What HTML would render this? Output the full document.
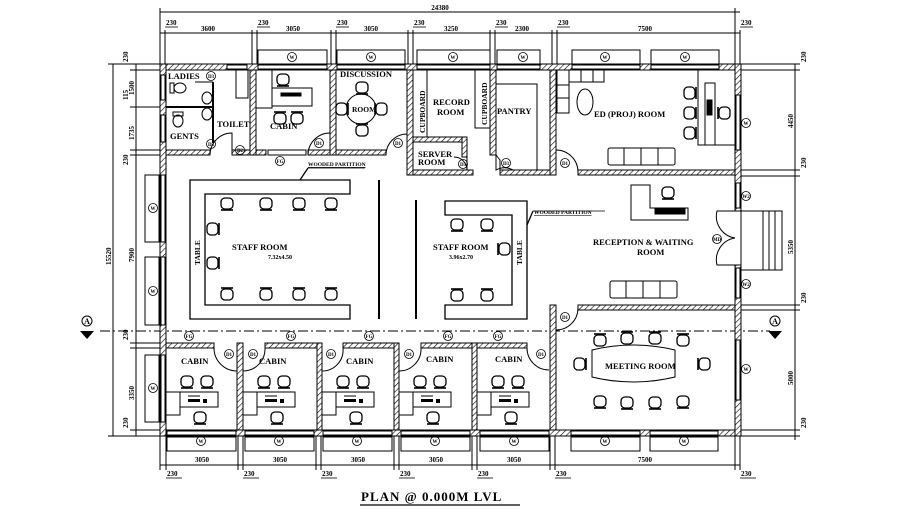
<!DOCTYPE html>
<html><head><meta charset="utf-8"><style>
html,body{margin:0;padding:0;background:#fff;}
svg{display:block;}
text{font-family:"Liberation Serif",serif;font-weight:bold;fill:#000;}
.d{font-family:"Liberation Sans",sans-serif;font-weight:normal;font-size:7px;}
</style></head><body>
<svg width="900" height="510" viewBox="0 0 900 510" xmlns="http://www.w3.org/2000/svg">
<defs>
<pattern id="h" width="4" height="4" patternUnits="userSpaceOnUse" patternTransform="rotate(45)">
<rect width="4" height="4" fill="#fff"/><line x1="0" y1="0" x2="0" y2="4" stroke="#000" stroke-width="1.2"/></pattern>
<g id="ch"><rect x="-6" y="-5" width="12" height="11" rx="4" fill="#fff" stroke="#000" stroke-width="1.3"/><line x1="-6" y1="-6" x2="6" y2="-6" stroke="#000" stroke-width="1.6"/></g>
<g id="cd"><rect x="-6" y="-6" width="12" height="11" rx="4" fill="#fff" stroke="#000" stroke-width="1.3"/><line x1="-6" y1="6" x2="6" y2="6" stroke="#000" stroke-width="1.6"/></g>
<g id="cl"><rect x="-5" y="-6" width="11" height="12" rx="4" fill="#fff" stroke="#000" stroke-width="1.3"/><line x1="-6" y1="-6" x2="-6" y2="6" stroke="#000" stroke-width="1.6"/></g>
<g id="cr"><rect x="-6" y="-6" width="11" height="12" rx="4" fill="#fff" stroke="#000" stroke-width="1.3"/><line x1="6" y1="-6" x2="6" y2="6" stroke="#000" stroke-width="1.6"/></g>
<g id="cab">
<rect x="0" y="0" width="14" height="23" fill="none" stroke="#000"/>
<rect x="14" y="0" width="38" height="15" fill="none" stroke="#000"/>
<rect x="22" y="7" width="12" height="3" fill="#000"/><rect x="37" y="7" width="4" height="4" fill="#000"/>
<line x1="22" y1="4" x2="34" y2="4" stroke="#000"/>
<use href="#cd" x="21" y="-10"/><use href="#cd" x="41" y="-10"/>
<use href="#cd" x="34" y="26"/>
</g>
</defs>

<g stroke="#000" stroke-width="1" fill="none">
<line x1="160" y1="12" x2="740" y2="12"/>
<line x1="160" y1="33" x2="740" y2="33"/>
<g stroke-width="1">
<line x1="160" y1="8" x2="160" y2="64"/><line x1="165" y1="30" x2="165" y2="64"/>
<line x1="252" y1="30" x2="252" y2="64"/><line x1="257" y1="30" x2="257" y2="64"/>
<line x1="331" y1="30" x2="331" y2="64"/><line x1="336" y1="30" x2="336" y2="64"/>
<line x1="408" y1="30" x2="408" y2="64"/><line x1="413" y1="30" x2="413" y2="64"/>
<line x1="490" y1="30" x2="490" y2="64"/><line x1="495" y1="30" x2="495" y2="64"/>
<line x1="552" y1="30" x2="552" y2="64"/><line x1="557" y1="30" x2="557" y2="64"/>
<line x1="735" y1="8" x2="735" y2="64"/><line x1="740" y1="30" x2="740" y2="64"/>
</g>
<g stroke-width="0.8">
<line x1="165" y1="27" x2="178" y2="27"/><line x1="257" y1="27" x2="270" y2="27"/><line x1="336" y1="27" x2="349" y2="27"/><line x1="413" y1="27" x2="426" y2="27"/><line x1="495" y1="27" x2="508" y2="27"/><line x1="557" y1="27" x2="570" y2="27"/><line x1="740" y1="27" x2="753" y2="27"/>
</g>
<rect x="258" y="50" width="69" height="14"/><rect x="337" y="50" width="68" height="14"/>
<rect x="417" y="50" width="73" height="14"/><rect x="497" y="50" width="43" height="14"/>
<rect x="572" y="50" width="68" height="14"/><rect x="651" y="50" width="68" height="14"/>
<rect x="167" y="437" width="69" height="14"/><rect x="245" y="437" width="69" height="14"/><rect x="323" y="437" width="69" height="14"/><rect x="401" y="437" width="69" height="14"/><rect x="480" y="437" width="69" height="14"/>
<rect x="571" y="437" width="69" height="14"/><rect x="650" y="437" width="68" height="14"/>
<rect x="145" y="175" width="14" height="67"/><rect x="145" y="257" width="14" height="68"/><rect x="145" y="355" width="14" height="67"/>
<line x1="160" y1="465" x2="740" y2="465"/>
<line x1="160" y1="436" x2="160" y2="470"/><line x1="166" y1="436" x2="166" y2="470"/>
<line x1="238" y1="436" x2="238" y2="470"/><line x1="243" y1="436" x2="243" y2="470"/>
<line x1="316" y1="436" x2="316" y2="470"/><line x1="321" y1="436" x2="321" y2="470"/>
<line x1="394" y1="436" x2="394" y2="470"/><line x1="399" y1="436" x2="399" y2="470"/>
<line x1="472" y1="436" x2="472" y2="470"/><line x1="477" y1="436" x2="477" y2="470"/>
<line x1="550" y1="436" x2="550" y2="470"/><line x1="555" y1="436" x2="555" y2="470"/>
<line x1="735" y1="436" x2="735" y2="470"/><line x1="740" y1="436" x2="740" y2="470"/>
<g stroke-width="0.8">
<line x1="166" y1="478" x2="182" y2="478"/><line x1="243" y1="478" x2="259" y2="478"/><line x1="321" y1="478" x2="337" y2="478"/><line x1="399" y1="478" x2="415" y2="478"/><line x1="477" y1="478" x2="493" y2="478"/><line x1="555" y1="478" x2="571" y2="478"/><line x1="740" y1="478" x2="756" y2="478"/>
</g>
<line x1="113" y1="64" x2="113" y2="436"/><line x1="136" y1="64" x2="136" y2="436"/>
<line x1="108" y1="64" x2="160" y2="64"/><line x1="130" y1="70" x2="160" y2="70"/>
<line x1="130" y1="107" x2="160" y2="107"/><line x1="130" y1="150" x2="160" y2="150"/><line x1="130" y1="155" x2="160" y2="155"/>
<line x1="130" y1="343" x2="160" y2="343"/><line x1="130" y1="348" x2="160" y2="348"/>
<line x1="130" y1="430" x2="160" y2="430"/><line x1="108" y1="436" x2="160" y2="436"/>
<line x1="795" y1="64" x2="795" y2="440"/>
<line x1="741" y1="64" x2="800" y2="64"/><line x1="741" y1="70" x2="800" y2="70"/>
<line x1="741" y1="170" x2="800" y2="170"/><line x1="741" y1="176" x2="800" y2="176"/>
<line x1="741" y1="305" x2="800" y2="305"/><line x1="741" y1="310" x2="800" y2="310"/>
<line x1="741" y1="430" x2="800" y2="430"/><line x1="741" y1="436" x2="800" y2="436"/>
<line x1="100" y1="331" x2="770" y2="331" stroke-dasharray="10,3,2,3"/>
</g>
<polygon points="80,331 94,331 87,339" fill="#000"/>
<polygon points="768,331 782,331 775,339" fill="#000"/>
<circle cx="87" cy="321" r="5" fill="none" stroke="#000"/><text x="87" y="324" font-size="8" text-anchor="middle">A</text>
<circle cx="775" cy="321" r="5" fill="none" stroke="#000"/><text x="775" y="324" font-size="8" text-anchor="middle">A</text>

<g fill="url(#h)" stroke="#000" stroke-width="1">
<rect x="160" y="64" width="581" height="6"/>
<rect x="160" y="430" width="581" height="6"/>
<rect x="160" y="64" width="6" height="372"/>
<rect x="735" y="64" width="6" height="147"/><rect x="735" y="265" width="6" height="171"/>
<rect x="166" y="150" width="44" height="5"/><rect x="232" y="150" width="18" height="5"/>
<rect x="250" y="70" width="6" height="85"/><rect x="256" y="150" width="10" height="5"/><rect x="308" y="150" width="22" height="5"/>
<rect x="330" y="70" width="6" height="85"/><rect x="336" y="150" width="50" height="5"/>
<rect x="407" y="70" width="6" height="105"/><rect x="413" y="137" width="54" height="5"/><rect x="462" y="137" width="5" height="20"/><rect x="413" y="170" width="60" height="5"/>
<rect x="490" y="70" width="6" height="85"/><rect x="500" y="170" width="56" height="5"/>
<rect x="550" y="70" width="6" height="105"/><rect x="578" y="170" width="157" height="5"/>
<rect x="550" y="305" width="6" height="125"/><rect x="578" y="305" width="157" height="5"/>
<rect x="166" y="343" width="48" height="5"/><rect x="237" y="343" width="6" height="87"/>
<rect x="265" y="343" width="52" height="5"/><rect x="317" y="343" width="5" height="87"/>
<rect x="343" y="343" width="51" height="5"/><rect x="394" y="343" width="5" height="87"/>
<rect x="421" y="343" width="51" height="5"/><rect x="472" y="343" width="5" height="87"/>
<rect x="477" y="343" width="50" height="5"/>
</g>
<g stroke="#000" stroke-width="1" fill="#fff">
<rect x="258" y="65" width="69" height="4"/><rect x="337" y="65" width="68" height="4"/><rect x="417" y="65" width="73" height="4"/><rect x="497" y="65" width="43" height="4"/><rect x="572" y="65" width="68" height="4"/><rect x="651" y="65" width="68" height="4"/>
<rect x="161" y="175" width="4" height="67"/><rect x="161" y="257" width="4" height="68"/><rect x="161" y="355" width="4" height="67"/>
<rect x="167" y="431" width="69" height="4"/><rect x="245" y="431" width="69" height="4"/><rect x="323" y="431" width="69" height="4"/><rect x="401" y="431" width="69" height="4"/><rect x="480" y="431" width="69" height="4"/><rect x="571" y="431" width="69" height="4"/><rect x="650" y="431" width="68" height="4"/>
<rect x="736" y="95" width="4" height="55"/><rect x="736" y="183" width="4" height="25"/><rect x="736" y="268" width="4" height="30"/><rect x="736" y="340" width="4" height="60"/>
<rect x="161" y="75" width="4" height="25"/><rect x="161" y="115" width="4" height="27"/>
<rect x="227" y="65" width="20" height="4"/>
<rect x="268" y="150" width="38" height="5"/>
</g>

<g fill="none" stroke="#000" stroke-width="1">
<path d="M210 155 A22 22 0 0 1 232 133 L232 155"/>
<path d="M308 155 A22 22 0 0 1 330 133 L330 155"/>
<path d="M386 155 A21 21 0 0 1 407 134 L407 155"/>
<path d="M467 157 L467 170 A13 13 0 0 0 454 157"/>
<path d="M496 155 L496 170 A17 17 0 0 1 513 170"/>
<path d="M556 150 A22 22 0 0 1 578 172"/>
<path d="M556 307 L556 330 A22 22 0 0 0 578 308"/>
<path d="M214 348 A23 23 0 0 0 237 371"/>
<path d="M243 371 A22 22 0 0 0 265 348"/>
<path d="M322 371 A21 21 0 0 0 343 348"/>
<path d="M399 371 A22 22 0 0 0 421 348"/>
<path d="M527 348 A22 22 0 0 0 549 370"/>
<path d="M735 211 L717 211 A22 22 0 0 0 735 238 M735 265 L717 265 A22 22 0 0 1 735 238"/>
<rect x="741" y="211" width="41" height="59"/>
<line x1="769" y1="211" x2="769" y2="270"/><line x1="775" y1="211" x2="775" y2="270"/><line x1="763" y1="211" x2="763" y2="270"/>
<line x1="195" y1="82" x2="213" y2="82"/>
</g>

<g fill="none" stroke="#000" stroke-width="1">
<line x1="166" y1="107" x2="213" y2="107" stroke-width="2"/>
<line x1="213" y1="82" x2="213" y2="143" stroke-width="2"/>
<ellipse cx="180" cy="88" rx="6" ry="5"/><rect x="170" y="83" width="4" height="10"/>
<ellipse cx="178" cy="121" rx="5" ry="6"/><rect x="173" y="112" width="10" height="4"/>
<ellipse cx="207" cy="98" rx="5" ry="6"/><ellipse cx="207" cy="114" rx="5" ry="6"/>
<rect x="236" y="70" width="12" height="28"/>
<rect x="256" y="70" width="16" height="38"/>
<rect x="272" y="88" width="40" height="18"/><rect x="281" y="93" width="20" height="3" fill="#000"/>
<circle cx="361" cy="109" r="15"/>
<rect x="413" y="70" width="14" height="67"/>
<rect x="475" y="70" width="15" height="58"/>
<polyline points="496,84 537,84 537,170 500,170 500,160 496,155"/>
<rect x="557" y="70" width="12" height="43"/><rect x="569" y="70" width="35" height="12"/>
<line x1="569" y1="85" x2="557" y2="85"/><line x1="557" y1="98" x2="569" y2="98"/><line x1="581" y1="70" x2="581" y2="82"/><line x1="593" y1="70" x2="593" y2="82"/>
<ellipse cx="585" cy="102" rx="8" ry="13"/>
<rect x="608" y="148" width="67" height="17" rx="2"/><line x1="624" y1="148" x2="624" y2="165"/><line x1="641" y1="148" x2="641" y2="165"/><line x1="658" y1="148" x2="658" y2="165"/>
<rect x="698" y="70" width="37" height="75"/><rect x="705" y="83" width="10" height="62"/>
<rect x="707" y="100" width="5" height="15" fill="#000"/>
</g>
<use href="#cd" x="283" y="80"/><use href="#ch" x="280" y="118"/><use href="#ch" x="297" y="118"/>
<use href="#cd" x="362" y="88"/><use href="#ch" x="362" y="130"/><use href="#cr" x="342" y="109"/><use href="#cl" x="381" y="109"/>
<use href="#cr" x="690" y="93"/><use href="#cr" x="690" y="113"/><use href="#cr" x="690" y="133"/><use href="#cl" x="724" y="113"/>

<g fill="none" stroke="#000" stroke-width="1.3">
<path d="M350 180 L190 180 L190 319 L350 319 L350 305 L205 305 L205 194 L350 194 Z"/>
<path d="M445 201 L527 201 L527 319 L445 319 L445 305 L512 305 L512 215 L445 215 Z"/>
<line x1="379" y1="180" x2="379" y2="319" stroke-width="2"/>
<line x1="416" y1="200" x2="416" y2="319" stroke-width="2"/>
<line x1="300" y1="180" x2="308" y2="168"/><line x1="308" y1="168" x2="365" y2="168" stroke-width="0.8"/>
<line x1="527" y1="225" x2="533" y2="211"/><line x1="533" y1="211" x2="605" y2="211" stroke-width="0.8"/>
</g>
<use href="#cd" x="227" y="204"/><use href="#cd" x="266" y="204"/><use href="#cd" x="299" y="204"/><use href="#cd" x="331" y="204"/>
<use href="#ch" x="227" y="294"/><use href="#ch" x="266" y="294"/><use href="#ch" x="299" y="294"/><use href="#ch" x="331" y="294"/>
<use href="#cr" x="213" y="229"/><use href="#cr" x="213" y="263"/>
<use href="#cd" x="457" y="225"/><use href="#cd" x="487" y="225"/><use href="#ch" x="457" y="295"/><use href="#ch" x="487" y="295"/><use href="#cl" x="504" y="249"/>

<g fill="none" stroke="#000" stroke-width="1">
<path d="M631 185 L650 185 L650 208 L688 208 L688 220 L631 220 Z"/>
<rect x="655" y="209" width="30" height="5" fill="#000"/>
<rect x="610" y="281" width="67" height="17" rx="2"/><line x1="626" y1="281" x2="626" y2="298"/><line x1="643" y1="281" x2="643" y2="298"/><line x1="660" y1="281" x2="660" y2="298"/>
<path d="M592 350 Q633 340 675 350 L675 377 Q633 387 592 377 Z"/>
</g>
<use href="#cd" x="668" y="193"/>
<use href="#ch" x="600" y="340"/><use href="#ch" x="627" y="338"/><use href="#ch" x="655" y="338"/><use href="#ch" x="683" y="340"/>
<use href="#cd" x="600" y="402"/><use href="#cd" x="627" y="403"/><use href="#cd" x="655" y="403"/><use href="#cd" x="683" y="402"/>
<use href="#cr" x="580" y="364"/><use href="#cl" x="704" y="364"/>

<use href="#cab" x="166" y="392"/><use href="#cab" x="243" y="392"/><use href="#cab" x="322" y="392"/><use href="#cab" x="399" y="392"/><use href="#cab" x="477" y="392"/>

<g font-size="8.5">
<text x="168" y="79">LADIES</text><text x="170" y="139">GENTS</text><text x="217" y="127">TOILET</text>
<text x="270" y="129">CABIN</text><text x="340" y="77">DISCUSSION</text><text x="352" y="112" font-size="7.5">ROOM</text>
<text x="433" y="105">RECORD</text><text x="437" y="115">ROOM</text>
<text x="497" y="114">PANTRY</text>
<text x="418" y="157">SERVER</text><text x="418" y="165">ROOM</text>
<text x="594" y="117">ED (PROJ) ROOM</text>
<text x="232" y="250">STAFF ROOM</text><text x="433" y="250">STAFF ROOM</text>
<text x="593" y="245">RECEPTION &amp; WAITING</text><text x="637" y="255">ROOM</text>
<text x="605" y="369">MEETING ROOM</text>
<text x="181" y="364">CABIN</text><text x="259" y="364">CABIN</text><text x="346" y="364">CABIN</text><text x="426" y="362">CABIN</text><text x="495" y="362">CABIN</text>
</g>
<g font-size="7.5">
<text transform="translate(425,133) rotate(-90)">CUPBOARD</text>
<text transform="translate(487,125) rotate(-90)">CUPBOARD</text>
<text transform="translate(200,265) rotate(-90)">TABLE</text>
<text transform="translate(522,265) rotate(-90)">TABLE</text>
</g>
<text x="268" y="259" font-size="6">7.32x4.50</text><text x="449" y="259" font-size="6">3.96x2.70</text>
<text x="308" y="166" font-size="5.5" text-decoration="underline">WOODED PARTITION</text>
<text x="534" y="214" font-size="5.5" text-decoration="underline">WOODED PARTITION</text>

<g fill="none" stroke="#000" stroke-width="0.8">
<circle cx="292" cy="57" r="4.5"/><circle cx="371" cy="57" r="4.5"/><circle cx="453" cy="57" r="4.5"/><circle cx="523" cy="57" r="4.5"/><circle cx="605" cy="57" r="4.5"/><circle cx="685" cy="57" r="4.5"/>
<circle cx="201" cy="441" r="4.5"/><circle cx="279" cy="441" r="4.5"/><circle cx="357" cy="441" r="4.5"/><circle cx="435" cy="441" r="4.5"/><circle cx="514" cy="441" r="4.5"/><circle cx="605" cy="441" r="4.5"/><circle cx="684" cy="441" r="4.5"/>
<circle cx="153" cy="208" r="4.5"/><circle cx="153" cy="291" r="4.5"/><circle cx="153" cy="388" r="4.5"/>
<circle cx="746" cy="123" r="4.5"/><circle cx="746" cy="369" r="4.5"/><circle cx="746" cy="196" r="4.5"/><circle cx="746" cy="284" r="4.5"/><circle cx="717" cy="239" r="4.5"/>
<circle cx="211" cy="76" r="4.5"/><circle cx="211" cy="144" r="4.5"/><circle cx="240" cy="150" r="4.5"/><circle cx="319" cy="143" r="4.5"/><circle cx="398" cy="143" r="4.5"/><circle cx="463" cy="164" r="4.5"/><circle cx="506" cy="163" r="4.5"/><circle cx="565" cy="163" r="4.5"/><circle cx="565" cy="317" r="4.5"/>
<circle cx="280" cy="161" r="4.5"/>
<circle cx="189" cy="336" r="4.5"/><circle cx="291" cy="336" r="4.5"/><circle cx="369" cy="336" r="4.5"/><circle cx="448" cy="336" r="4.5"/><circle cx="498" cy="336" r="4.5"/>
<circle cx="229" cy="354" r="4.5"/><circle cx="253" cy="354" r="4.5"/><circle cx="331" cy="354" r="4.5"/><circle cx="409" cy="354" r="4.5"/><circle cx="541" cy="354" r="4.5"/>
</g>
<g font-size="5" text-anchor="middle" font-family="Liberation Sans">
<text x="292" y="59">W</text><text x="371" y="59">W</text><text x="453" y="59">W</text><text x="523" y="59">W</text><text x="605" y="59">W</text><text x="685" y="59">W</text>
<text x="201" y="443">W</text><text x="279" y="443">W</text><text x="357" y="443">W</text><text x="435" y="443">W</text><text x="514" y="443">W</text><text x="605" y="443">W</text><text x="684" y="443">W</text>
<text x="153" y="210">W</text><text x="153" y="293">W</text><text x="153" y="390">W</text>
<text x="746" y="125">W</text><text x="746" y="371">W</text><text x="746" y="198">W2</text><text x="746" y="286">W2</text><text x="717" y="241">MD</text>
<text x="211" y="78">D3</text><text x="211" y="146">D3</text><text x="240" y="152">D2</text><text x="319" y="145">D1</text><text x="398" y="145">D1</text><text x="463" y="166">D3</text><text x="506" y="165">D3</text><text x="565" y="165">D1</text><text x="565" y="319">D1</text>
<text x="280" y="163">FG</text>
<text x="189" y="338">FG</text><text x="291" y="338">FG</text><text x="369" y="338">FG</text><text x="448" y="338">FG</text><text x="498" y="338">FG</text>
<text x="229" y="356">D1</text><text x="253" y="356">D1</text><text x="331" y="356">D1</text><text x="409" y="356">D1</text><text x="541" y="356">D1</text>
</g>

<g class="d">
<text x="440" y="10" text-anchor="middle">24380</text>
<text x="166" y="25">230</text><text x="258" y="25">230</text><text x="337" y="25">230</text><text x="414" y="25">230</text><text x="496" y="25">230</text><text x="558" y="25">230</text><text x="741" y="25">230</text>
<text x="208" y="31" text-anchor="middle">3600</text><text x="293" y="31" text-anchor="middle">3050</text><text x="371" y="31" text-anchor="middle">3050</text><text x="451" y="31" text-anchor="middle">3250</text><text x="522" y="31" text-anchor="middle">2300</text><text x="645" y="31" text-anchor="middle">7500</text>
<text x="202" y="462" text-anchor="middle">3050</text><text x="280" y="462" text-anchor="middle">3050</text><text x="358" y="462" text-anchor="middle">3050</text><text x="436" y="462" text-anchor="middle">3050</text><text x="514" y="462" text-anchor="middle">3050</text><text x="645" y="462" text-anchor="middle">7500</text>
<text x="167" y="476">230</text><text x="244" y="476">230</text><text x="322" y="476">230</text><text x="400" y="476">230</text><text x="478" y="476">230</text><text x="556" y="476">230</text><text x="741" y="476">230</text>
<text transform="translate(111,265) rotate(-90)">15520</text>
<text transform="translate(134,262) rotate(-90)">7900</text>
<text transform="translate(134,400) rotate(-90)">3350</text>
<text transform="translate(134,140) rotate(-90)">1735</text>
<text transform="translate(134,95) rotate(-90)">1500</text>
<text transform="translate(128,100) rotate(-90)">115</text>
<text transform="translate(128,62) rotate(-90)">230</text>
<text transform="translate(128,165) rotate(-90)">230</text>
<text transform="translate(128,340) rotate(-90)">230</text>
<text transform="translate(128,428) rotate(-90)">230</text>
<text transform="translate(793,128) rotate(-90)">4450</text>
<text transform="translate(793,254) rotate(-90)">5350</text>
<text transform="translate(793,385) rotate(-90)">5000</text>
<text transform="translate(806,62) rotate(-90)">230</text>
<text transform="translate(806,168) rotate(-90)">230</text>
<text transform="translate(806,303) rotate(-90)">230</text>
<text transform="translate(806,428) rotate(-90)">230</text>
</g>

<text x="361" y="501" font-size="13" letter-spacing="1">PLAN  @  0.000M  LVL</text>
<line x1="360" y1="505" x2="520" y2="505" stroke="#000" stroke-width="1.2"/>
</svg>
</body></html>
